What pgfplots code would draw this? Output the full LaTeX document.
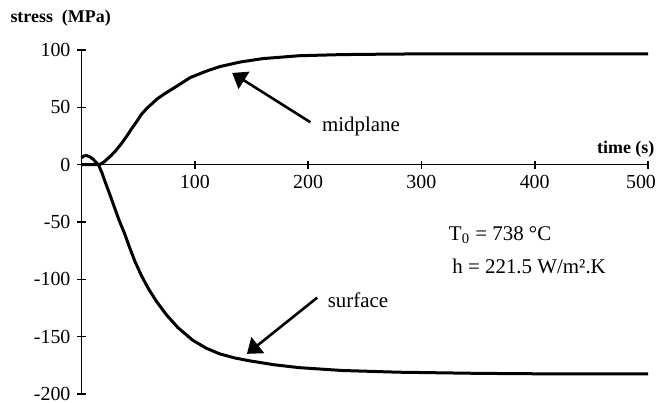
\documentclass[border=0pt]{standalone}
\usepackage{pgfplots}
\pgfplotsset{compat=1.18}
\usepackage{fontspec}
\setmainfont{Liberation Serif}
\usetikzlibrary{arrows.meta}

\begin{document}
\begin{tikzpicture}
\begin{axis}[
    width=283.25bp, height=172bp, scale only axis,
    xmin=0, xmax=500, ymin=-200, ymax=100,
    axis x line=middle, axis y line=left,
    axis line style={-, line width=0.8bp},
    xtick={100,200,300,400,500},
    xticklabels={100,200,300,400,{\hspace*{-7bp}500}},
    ytick={-200,-150,-100,-50,0,50,100},
    tick align=center, major tick length=4bp,
    tick style={black, line width=0.8bp},
    minor tick num=0,
    ticklabel style={font=\fontsize{10}{12}\selectfont},
    /pgf/number format/assume math mode=true,
    clip=false
]
% surface
\addplot[black, line width=1.5bp] coordinates {
    (0,6) (2,7.5) (4,8) (7,7) (10,5) (13,2) (15,0) (18,-7) (20.5,-14)
    (25,-26) (29,-37) (33,-48) (38,-60) (42,-71) (47,-84) (53,-97)
    (59,-108) (66,-119) (75,-131) (85,-142) (98,-153) (110,-160)
    (122,-165) (135,-168.5) (148,-171) (170,-174.5) (192,-177)
    (230,-179.5) (280,-181) (350,-182) (420,-182.5) (500,-182.5)
};
% midplane
\addplot[black, line width=1.5bp] coordinates {
    (0,0) (16,0) (20,2.5) (26,7.8) (30,12) (35,18) (40,25) (44,31)
    (49,38) (53,44) (58,49.5) (62,53) (67,57.5) (73,61.6) (85,69)
    (96,76) (110,81.5) (122,85.5) (140,89.5) (160,92.5) (192,95)
    (230,96) (280,96.5) (350,96.7) (500,96.7)
};

\draw[line width=1.3bp, -{Triangle[length=7bp,width=10bp]}] (axis cs:202,37) -- (axis cs:133,80);
\draw[line width=1.3bp, -{Triangle[length=7bp,width=10bp]}] (axis cs:208,-116) -- (axis cs:146,-165);

\node[anchor=west, inner sep=0, font=\fontsize{10.5}{12}\selectfont] at (axis cs:212,33) {midplane};
\node[anchor=west, inner sep=0, font=\fontsize{10.5}{12}\selectfont] at (axis cs:217,-118.6) {surface};
\node[anchor=base west, inner sep=0, font=\fontsize{10.5}{12}\selectfont] at (axis cs:324,-66.3) {T\textsubscript{0} = 738 °C};
\node[anchor=base west, inner sep=0, font=\fontsize{10.5}{12}\selectfont] at (axis cs:327,-95) {h = 221.5 W/m².K};
\node[anchor=base east, inner sep=0, font=\bfseries\fontsize{9}{11}\selectfont] at (axis cs:506,9.6) {time (s)};
\node[anchor=base west, inner sep=0, font=\bfseries\fontsize{9}{11}\selectfont] at (axis cs:-63,123.8) {stress~ (MPa)};
\end{axis}
\pgfresetboundingbox
\path[use as bounding box] ([shift={(-40.75bp,-4.5bp)}]current axis.south west) rectangle ([shift={(289.25bp,197bp)}]current axis.south west);
\end{tikzpicture}
\end{document}
